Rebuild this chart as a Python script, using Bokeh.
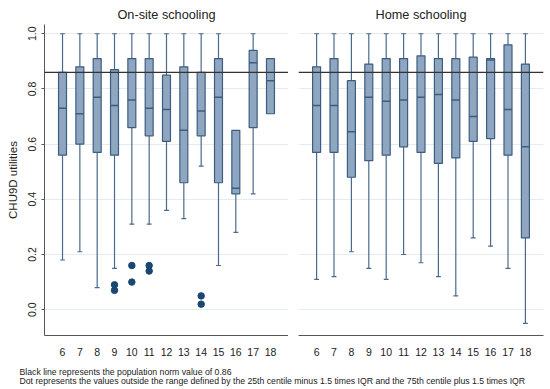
from bokeh.plotting import figure
from bokeh.layouts import row, column
from bokeh.models import FixedTicker, Span, Label, Range1d, NumeralTickFormatter, ColumnDataSource
from bokeh.embed import file_html
from bokeh.resources import INLINE
import numpy as np

# ---------------- data ----------------
ages = [6, 7, 8, 9, 10, 11, 12, 13, 14, 15, 16, 17, 18]

onsite_q1 = [0.56, 0.60, 0.57, 0.56, 0.66, 0.63, 0.61, 0.46, 0.63, 0.46, 0.42, 0.66, 0.71]
onsite_med = [0.73, 0.71, 0.77, 0.74, 0.76, 0.73, 0.725, 0.65, 0.72, 0.77, 0.44, 0.895, 0.83]
onsite_q3 = [0.86, 0.88, 0.91, 0.87, 0.91, 0.91, 0.85, 0.88, 0.86, 0.91, 0.65, 0.94, 0.91]
onsite_lo = [0.18, 0.21, 0.08, 0.15, 0.31, 0.31, 0.36, 0.33, 0.52, 0.16, 0.28, 0.42, 0.71]
onsite_hi = [1.0, 1.0, 1.0, 1.0, 1.0, 1.0, 1.0, 1.0, 1.0, 1.0, 0.65, 1.0, 0.91]
onsite_out_age = [9, 9, 10, 10, 11, 11, 14, 14]
onsite_out_val = [0.09, 0.07, 0.16, 0.10, 0.16, 0.14, 0.05, 0.02]

home_q1 = [0.57, 0.57, 0.48, 0.54, 0.56, 0.59, 0.57, 0.53, 0.55, 0.61, 0.62, 0.56, 0.26]
home_med = [0.74, 0.74, 0.645, 0.77, 0.755, 0.76, 0.77, 0.78, 0.76, 0.70, 0.905, 0.725, 0.59]
home_q3 = [0.88, 0.91, 0.83, 0.89, 0.91, 0.91, 0.92, 0.91, 0.91, 0.915, 0.91, 0.96, 0.89]
home_lo = [0.11, 0.12, 0.21, 0.15, 0.11, 0.20, 0.17, 0.12, 0.05, 0.26, 0.23, 0.15, -0.05]
home_hi = [1.0, 1.0, 1.0, 1.0, 1.0, 1.0, 1.0, 1.0, 1.0, 1.0, 1.0, 1.0, 1.0]
home_out_age = []
home_out_val = []

norm_value = 0.86
y_ticks = [0.0, 0.2, 0.4, 0.6, 0.8, 1.0]

panel_titles = ["On-site schooling", "Home schooling"]
y_label = "CHU9D utilities"
note1 = "Black line represents the population norm value of 0.86"
note2 = ("Dot represents the values outside the range defined by the 25th centile minus 1.5 times IQR "
         "and the 75th centile plus 1.5 times IQR")

# ---------------- style ----------------
FONT = "Liberation Sans"
BOX_FILL = "#8ea6bf"
BOX_LINE = "#3d5d80"
WHISK = "#4a6a8c"
DOT = "#1a476f"
GRID = "#e3ecf1"
AXIS = "#555555"
TXT = "#222222"
BOX_W = 0.46
CAP_W = 0.28

Y0, Y1 = -0.0936, 1.0335
X0, X1 = 4.96, 19.04

TOP, FRAME_H, BOTTOM = 24, 313, 21


def make_panel(title, q1, med, q3, lo, hi, out_x, out_y, first):
    p = figure(width=288 if first else 262, height=TOP + FRAME_H + BOTTOM,
               output_backend="svg", toolbar_location=None,
               x_range=Range1d(X0, X1), y_range=Range1d(Y0, Y1),
               min_border_left=44 if first else 10, min_border_right=0 if first else 7,
               min_border_top=TOP, min_border_bottom=BOTTOM)
    p.background_fill_color = "white"
    p.border_fill_color = "white"
    p.outline_line_color = None

    p.title.text = title
    p.title.align = "center"
    p.title.text_font = FONT
    p.title.text_font_size = "12.7px"
    p.title.text_font_style = "normal"
    p.title.text_color = TXT
    p.title.standoff = 5

    x = np.array(ages, dtype=float)
    q1a, meda, q3a = np.array(q1), np.array(med), np.array(q3)
    loa, hia = np.array(lo), np.array(hi)

    src = ColumnDataSource(dict(x=x, q1=q1a, med=meda, q3=q3a, lo=loa, hi=hia,
                                xl=x - BOX_W / 2, xr=x + BOX_W / 2))

    # whiskers
    p.segment(x0="x", y0="q3", x1="x", y1="hi", source=src, line_color=WHISK, line_width=1.2)
    p.segment(x0="x", y0="q1", x1="x", y1="lo", source=src, line_color=WHISK, line_width=1.2)
    # caps where a whisker exists
    up = hia > q3a + 1e-9
    dn = loa < q1a - 1e-9
    p.segment(x0=x[up] - CAP_W / 2, y0=hia[up], x1=x[up] + CAP_W / 2, y1=hia[up],
              line_color=WHISK, line_width=1.2)
    p.segment(x0=x[dn] - CAP_W / 2, y0=loa[dn], x1=x[dn] + CAP_W / 2, y1=loa[dn],
              line_color=WHISK, line_width=1.2)
    # boxes
    p.vbar(x="x", top="q3", bottom="q1", width=BOX_W, source=src,
           fill_color=BOX_FILL, line_color=BOX_LINE, line_width=1.2)
    # medians
    p.segment(x0="xl", y0="med", x1="xr", y1="med", source=src, line_color=BOX_LINE, line_width=1.5)

    # outliers
    if len(out_x):
        p.scatter(x=out_x, y=out_y, size=6.5, fill_color=DOT, line_color=DOT)

    # population norm
    p.add_layout(Span(location=norm_value, dimension="width", line_color="#333333", line_width=1.3))

    # axes
    p.xaxis.ticker = FixedTicker(ticks=ages)
    p.xaxis.major_tick_line_color = None
    p.xaxis.minor_tick_line_color = None
    p.xaxis.axis_line_color = AXIS
    p.xaxis.axis_line_width = 1
    p.xaxis.major_label_standoff = 6
    p.xaxis.major_label_text_font = FONT
    p.xaxis.major_label_text_font_size = "10.5px"
    p.xaxis.major_label_text_color = TXT
    p.xgrid.visible = False

    p.yaxis.ticker = FixedTicker(ticks=y_ticks)
    p.ygrid.ticker = FixedTicker(ticks=y_ticks)
    p.ygrid.grid_line_color = GRID
    p.ygrid.grid_line_width = 1
    if first:
        p.yaxis.formatter = NumeralTickFormatter(format="0.0")
        p.yaxis.major_label_orientation = "vertical"
        p.yaxis.major_label_text_font = FONT
        p.yaxis.major_label_text_font_size = "10.5px"
        p.yaxis.major_label_text_color = TXT
        p.yaxis.major_label_standoff = 5
        p.yaxis.major_tick_out = 3
        p.yaxis.major_tick_in = 0
        p.yaxis.major_tick_line_color = AXIS
        p.yaxis.minor_tick_line_color = None
        p.yaxis.axis_line_color = AXIS
        p.yaxis.axis_label = y_label
        p.yaxis.axis_label_text_font = FONT
        p.yaxis.axis_label_text_font_size = "11.5px"
        p.yaxis.axis_label_text_font_style = "normal"
        p.yaxis.axis_label_text_color = TXT
        p.yaxis.axis_label_standoff = 7
    else:
        p.yaxis.visible = False
    return p


p1 = make_panel(panel_titles[0], onsite_q1, onsite_med, onsite_q3, onsite_lo, onsite_hi,
                onsite_out_age, onsite_out_val, True)
p2 = make_panel(panel_titles[1], home_q1, home_med, home_q3, home_lo, home_hi,
                home_out_age, home_out_val, False)

NOTE_H = 31
f = figure(width=550, height=NOTE_H, x_range=Range1d(0, 550), y_range=Range1d(0, NOTE_H),
           output_backend="svg", toolbar_location=None, x_axis_type=None, y_axis_type=None,
           min_border=0)
f.outline_line_color = None
f.grid.visible = False
f.background_fill_color = "white"
f.border_fill_color = "white"
for txt, yy in [(note1, 18), (note2, 9)]:
    f.add_layout(Label(x=19, y=yy, text=txt, text_font=FONT, text_font_size="8.7px",
                       text_color=TXT, text_baseline="alphabetic"))

layout = column(row(p1, p2), f)
open("out.html", "w").write(file_html(layout, INLINE))
